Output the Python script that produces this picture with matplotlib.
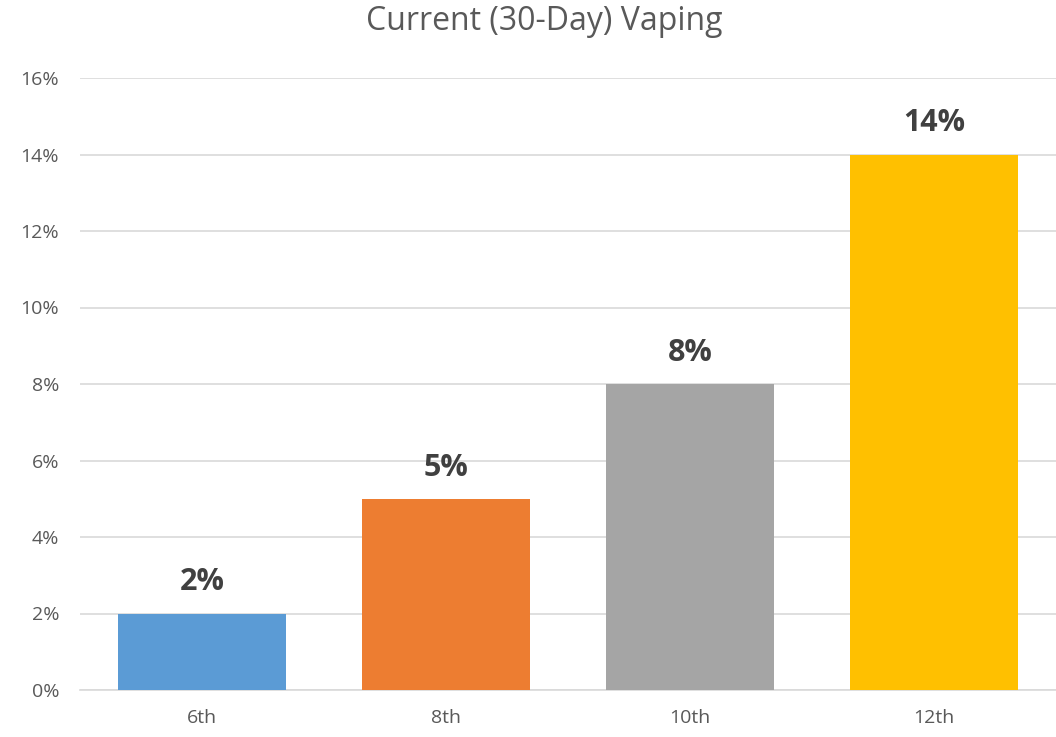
import matplotlib as mpl
mpl.use('Agg')
import matplotlib.pyplot as plt
from matplotlib.ticker import PercentFormatter

grades = ['6th', '8th', '10th', '12th']
vaping = [2, 5, 8, 14]
bar_colors = ['#5B9BD5', '#ED7D31', '#A5A5A5', '#FFC000']
yticks = [0, 2, 4, 6, 8, 10, 12, 14, 16]

plt.rcParams['font.family'] = ['Open Sans', 'DejaVu Sans']
txt = '#595959'

fig = plt.figure(figsize=(10.56, 7.37), dpi=100)
ax = fig.add_axes([80/1056, 47/737, 976/1056, 612/737])

xpos = range(len(grades))
ax.bar(xpos, vaping, width=0.686, color=bar_colors, zorder=3)
for x, v in zip(xpos, vaping):
    ax.text(x, v + 0.42, '%d%%' % v, ha='center', va='bottom',
            fontsize=22, fontweight='bold', color='#404040')

ax.set_xlim(-0.5, 3.5)
ax.set_ylim(0, 16)
ax.set_yticks(yticks)
ax.yaxis.set_major_formatter(PercentFormatter(decimals=0))
ax.set_xticks(list(xpos))
ax.set_xticklabels(grades)
ax.grid(axis='y', color='#D9D9D9', linewidth=1.2, zorder=0)
for s in ['top', 'right', 'left']:
    ax.spines[s].set_visible(False)
ax.spines['bottom'].set_color('#D9D9D9')
ax.spines['bottom'].set_linewidth(1.2)
ax.tick_params(axis='both', length=0, labelsize=14, colors=txt)
ax.tick_params(axis='x', pad=14)
ax.tick_params(axis='y', pad=15)

fig.text(544/1056, 1 - 22/737, 'Current (30-Day) Vaping', ha='center', va='center',
         fontsize=23, color=txt)

fig.savefig('out.png', dpi=100)
